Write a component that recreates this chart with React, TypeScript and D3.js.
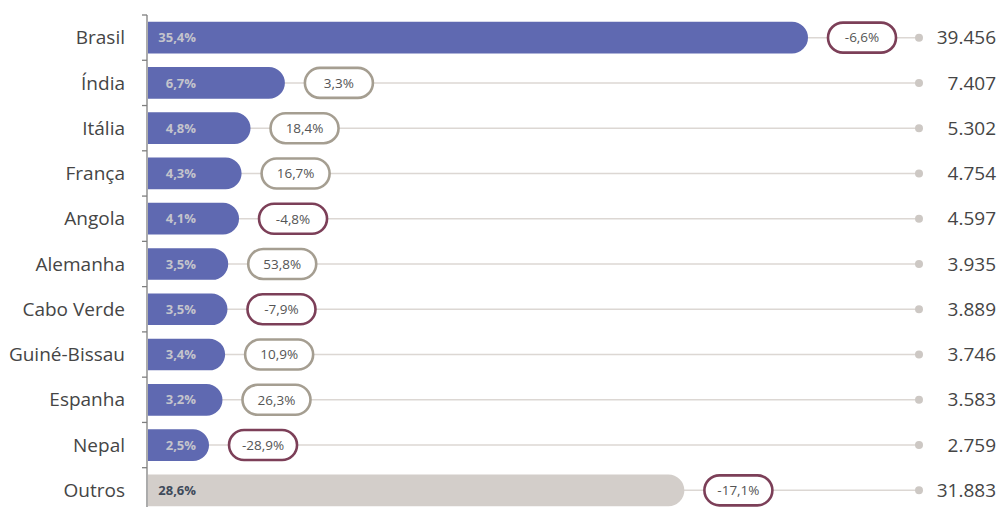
import React from "react";
import * as d3 from "d3";

const categories = ["Brasil", "Índia", "Itália", "França", "Angola", "Alemanha", "Cabo Verde", "Guiné-Bissau", "Espanha", "Nepal", "Outros"];
const values = [39456, 7407, 5302, 4754, 4597, 3935, 3889, 3746, 3583, 2759, 31883];
const shares = ["35,4%", "6,7%", "4,8%", "4,3%", "4,1%", "3,5%", "3,5%", "3,4%", "3,2%", "2,5%", "28,6%"];
const growth = [-6.6, 3.3, 18.4, 16.7, -4.8, 53.8, -7.9, 10.9, 26.3, -28.9, -17.1];

const W = 999;
const H = 507;
const FONT = "'Open Sans', 'DejaVu Sans', sans-serif";

const fmtPct = (v: number) => v.toFixed(1).replace(".", ",") + "%";
const fmtNum = (v: number) => d3.format(",")(v).replace(/,/g, ".");

export default function App() {
  const axisX = 147;
  const capR = 16;
  const y = d3.scaleBand<string>().domain(categories).range([15, 15 + 45.27 * categories.length]).paddingInner(0.3).paddingOuter(0.15);
  const x = d3.scaleLinear().domain([0, 39456]).range([axisX + 1, axisX + 1 + 644]);
  const dotX = 919;
  const bw = y.bandwidth();
  const step = y.step();
  const ticks = d3.range(categories.length + 1).map((i) => 15 + i * step);

  return (
    <svg width={W} height={H} style={{ position: "absolute", left: 0, top: 0 }} fontFamily={FONT}>
      {categories.map((c, i) => {
        const yc = (y(c) as number) + bw / 2;
        const v = values[i];
        const x0 = axisX + 1;
        const x1 = x(v);
        const end = x1 + capR;
        const isOther = c === "Outros";
        const neg = growth[i] < 0;
        const pillW = 68;
        const pillH = 30;
        const px = end + 20;
        const top = yc - bw / 2;
        const path = `M${x0},${top} H${end - capR} A${capR},${capR} 0 0 1 ${end},${top + capR} V${top + bw - capR} A${capR},${capR} 0 0 1 ${end - capR},${top + bw} H${x0} Z`;
        return (
          <g key={c}>
            <line x1={x0} x2={dotX} y1={yc} y2={yc} stroke="#dcd7d3" strokeWidth={1.5} />
            <circle cx={dotX} cy={yc} r={4} fill="#cdc8c4" />
            <path d={path} fill={isOther ? "#d3ceca" : "#5f69b1"} />
            <text x={196} y={yc} dy="0.36em" textAnchor="end" fontSize={13} fontWeight="bold" fill={isOther ? "#3e4a5a" : "#c4c4cc"}>
              {shares[i]}
            </text>
            <rect x={px} y={yc - pillH / 2} width={pillW} height={pillH} rx={15} ry={15} fill="#ffffff" stroke={neg ? "#7c3f58" : "#a59e91"} strokeWidth={2.6} />
            <text x={px + pillW / 2} y={yc} dy="0.36em" textAnchor="middle" fontSize={13.5} fill="#555555">
              {fmtPct(growth[i])}
            </text>
            <text x={125} y={yc} dy="0.35em" textAnchor="end" fontSize={19} fill="#454545">
              {c}
            </text>
            <text x={996} y={yc} dy="0.35em" textAnchor="end" fontSize={19} fill="#454545">
              {fmtNum(v)}
            </text>
          </g>
        );
      })}
      <line x1={axisX} x2={axisX} y1={15} y2={H} stroke="#7f7f7f" strokeWidth={1.3} />
      {ticks.map((t, i) => (
        <line key={i} x1={axisX - 5} x2={axisX} y1={t} y2={t} stroke="#7f7f7f" strokeWidth={1.3} />
      ))}
    </svg>
  );
}
